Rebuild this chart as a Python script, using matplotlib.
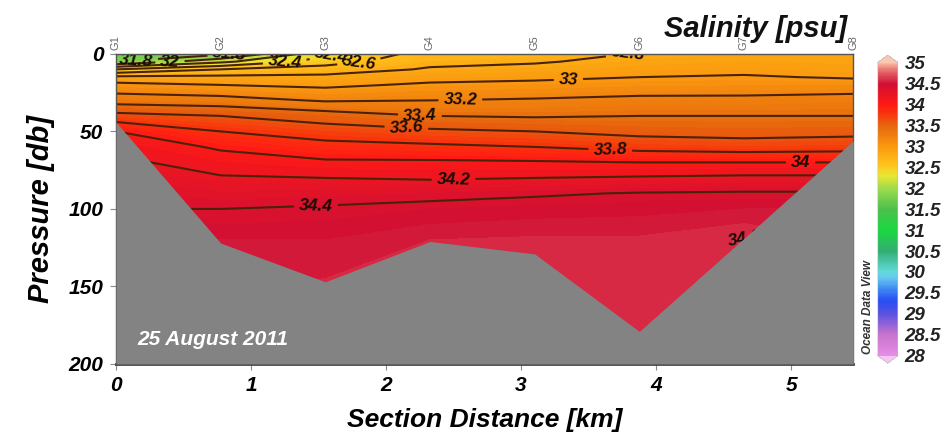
import numpy as np
import matplotlib
matplotlib.use("Agg")
import matplotlib.pyplot as plt
from matplotlib.colors import LinearSegmentedColormap, Normalize
from matplotlib.cm import ScalarMappable

plt.rcParams['font.family'] = ['Liberation Sans', 'DejaVu Sans']

# station positions along the section and their bottom depths
stations = ['G1', 'G2', 'G3', 'G4', 'G5', 'G6', 'G7', 'G8']
dist_km = [0.0, 0.775, 1.55, 2.325, 3.10, 3.875, 4.65, 5.46]
bottom_db = [44, 122, 147, 121, 129, 179, 119, 56]

# pressure levels of the profiles
depth_db = [0, 5, 10, 15, 20, 30, 40, 50, 60, 70, 80, 90, 100, 120, 150, 200]

# salinity profiles (psu), one list per station
sal_g1 = [31.70, 31.80, 32.40, 32.85, 33.06, 33.31, 33.67, 34.00, 34.15, 34.25, 34.30, 34.36, 34.40, 34.50, 34.55, 34.55]
sal_g2 = [31.75, 32.15, 32.60, 32.85, 33.00, 33.28, 33.60, 33.80, 33.97, 34.10, 34.22, 34.31, 34.40, 34.50, 34.55, 34.55]
sal_g3 = [32.35, 32.50, 32.70, 32.85, 32.96, 33.18, 33.50, 33.70, 33.87, 34.03, 34.20, 34.33, 34.42, 34.50, 34.56, 34.56]
sal_g4 = [32.70, 32.75, 32.82, 32.93, 33.03, 33.20, 33.40, 33.64, 33.84, 34.03, 34.18, 34.35, 34.45, 34.55, 34.57, 34.57]
sal_g5 = [32.72, 32.78, 32.86, 32.96, 33.05, 33.22, 33.38, 33.60, 33.80, 34.02, 34.20, 34.38, 34.47, 34.56, 34.58, 34.58]
sal_g6 = [32.81, 32.86, 32.93, 33.00, 33.08, 33.25, 33.40, 33.54, 33.73, 34.00, 34.22, 34.41, 34.48, 34.56, 34.58, 34.58]
sal_g7 = [32.85, 32.90, 32.95, 33.02, 33.09, 33.25, 33.40, 33.52, 33.70, 34.00, 34.24, 34.42, 34.50, 34.605, 34.58, 34.58]
sal_g8 = [32.85, 32.88, 32.93, 32.98, 33.09, 33.28, 33.40, 33.54, 33.72, 34.00, 34.24, 34.42, 34.50, 34.55, 34.56, 34.56]

# contour levels that get a line, and where their labels sit
line_levels = [31.8, 32.0, 32.2, 32.4, 32.6, 32.8, 33.0, 33.2, 33.4, 33.6,
               33.8, 34.0, 34.2, 34.4, 34.6]
label_pos = [(0.15, 5), (0.40, 5), (0.85, 1), (1.25, 5), (1.60, 4), (1.80, 6),
             (3.85, 1), (3.35, 16), (2.55, 30), (2.25, 41), (2.15, 48),
             (3.66, 62), (5.07, 70), (2.50, 81), (1.48, 94), (4.66, 116)]

cbar_ticks = [28, 28.5, 29, 29.5, 30, 30.5, 31, 31.5, 32, 32.5, 33, 33.5,
              34, 34.5, 35]

# ODV-like rainbow for salinity 28..35
cnodes = [
    (28.0, (0.90, 0.55, 0.90)),
    (28.5, (0.78, 0.45, 0.80)),
    (29.0, (0.35, 0.32, 0.88)),
    (29.3, (0.15, 0.30, 0.95)),
    (29.6, (0.25, 0.55, 0.95)),
    (29.85, (0.40, 0.78, 0.95)),
    (30.0, (0.38, 0.86, 0.85)),
    (30.5, (0.20, 0.68, 0.45)),
    (31.0, (0.10, 0.85, 0.25)),
    (31.5, (0.30, 0.75, 0.30)),
    (32.0, (0.62, 0.86, 0.30)),
    (32.3, (0.92, 0.90, 0.20)),
    (32.6, (1.00, 0.75, 0.10)),
    (33.0, (0.98, 0.60, 0.06)),
    (33.5, (0.90, 0.40, 0.05)),
    (33.8, (0.98, 0.20, 0.05)),
    (34.0, (1.00, 0.10, 0.08)),
    (34.5, (0.82, 0.06, 0.20)),
    (34.8, (0.90, 0.40, 0.42)),
    (35.0, (0.98, 0.72, 0.62)),
]
vmin, vmax = 28.0, 35.0
cmap = LinearSegmentedColormap.from_list(
    'odv', [((v - vmin) / (vmax - vmin), c) for v, c in cnodes])
cmap.set_over((0.98, 0.78, 0.70))
cmap.set_under((0.95, 0.78, 0.95))
norm = Normalize(vmin, vmax)

bi = dict(fontweight='bold', fontstyle='italic')

fig = plt.figure(figsize=(9.49, 4.38), dpi=100)
ax = fig.add_axes([0.1222, 0.169, 0.777, 0.708])

X, Z = np.meshgrid(dist_km, depth_db)
S = np.column_stack([sal_g1, sal_g2, sal_g3, sal_g4,
                     sal_g5, sal_g6, sal_g7, sal_g8])

fill_levels = np.linspace(vmin, vmax, 141)
ax.contourf(X, Z, S, levels=fill_levels, cmap=cmap, norm=norm, zorder=1)
cs = ax.contour(X, Z, S, levels=line_levels, colors='#4a2208',
                linewidths=1.5, zorder=2)
labels = ax.clabel(cs, line_levels, inline=True, inline_spacing=5,
                   fmt='%g', fontsize=12.5, manual=label_pos)
for t in labels:
    t.set_fontweight('bold')
    t.set_fontstyle('italic')
    t.set_color('#1a0c04')
    t.set_zorder(2.5)

# seabed
ax.fill_between(dist_km, bottom_db, 200, color='#838383', lw=0, zorder=3)

ax.set_xlim(0, 5.46)
ax.set_ylim(200, 0)
ax.set_xticks([0, 1, 2, 3, 4, 5])
ax.set_yticks([0, 50, 100, 150, 200])
ax.tick_params(axis='both', direction='out', length=4, width=0.8,
               color='#888888', labelsize=15, pad=5)
for lab in ax.get_xticklabels() + ax.get_yticklabels():
    lab.set_fontweight('bold')
    lab.set_fontstyle('italic')
for sp in ax.spines.values():
    sp.set_color('#555555')
    sp.set_linewidth(1.0)
ax.spines['bottom'].set_linewidth(2.0)
ax.spines['bottom'].set_color('#444444')

ax.set_xlabel('Section Distance [km]', fontsize=19, labelpad=9, **bi)
ax.set_ylabel('Pressure [db]', fontsize=21, labelpad=10, **bi)

ax.text(0.16, 184, '25 August 2011', color='white', fontsize=15,
        va='center', ha='left', zorder=5, **bi)

# station names above the section
for name, x in zip(stations, dist_km):
    ax.text(x, 1.012, name, transform=ax.get_xaxis_transform(),
            rotation=90, ha='center', va='bottom', fontsize=8,
            color='#666666', clip_on=False)

fig.text(0.8925, 1 - 37 / 438, 'Salinity [psu]', ha='right',
         va='baseline', fontsize=21, color='#111111', zorder=10, **bi)

# colour bar
cax = fig.add_axes([0.925, 0.171, 0.021, 0.703])
cb = fig.colorbar(ScalarMappable(norm=norm, cmap=cmap), cax=cax,
                  extend='both', extendfrac=0.025, ticks=cbar_ticks)
cb.outline.set_linewidth(0.4)
cb.outline.set_edgecolor('#bbbbbb')
cax.tick_params(length=0, labelsize=13.5, pad=5)
cax.set_yticklabels(['%g' % t for t in cbar_ticks])
for lab in cax.get_yticklabels():
    lab.set_fontweight('bold')
    lab.set_fontstyle('italic')
    lab.set_color('#222222')

fig.text(0.915, 0.30, 'Ocean Data View', rotation=90, ha='center',
         va='center', fontsize=8.5, color='#333333', **bi)

fig.savefig('out.png', dpi=100)
